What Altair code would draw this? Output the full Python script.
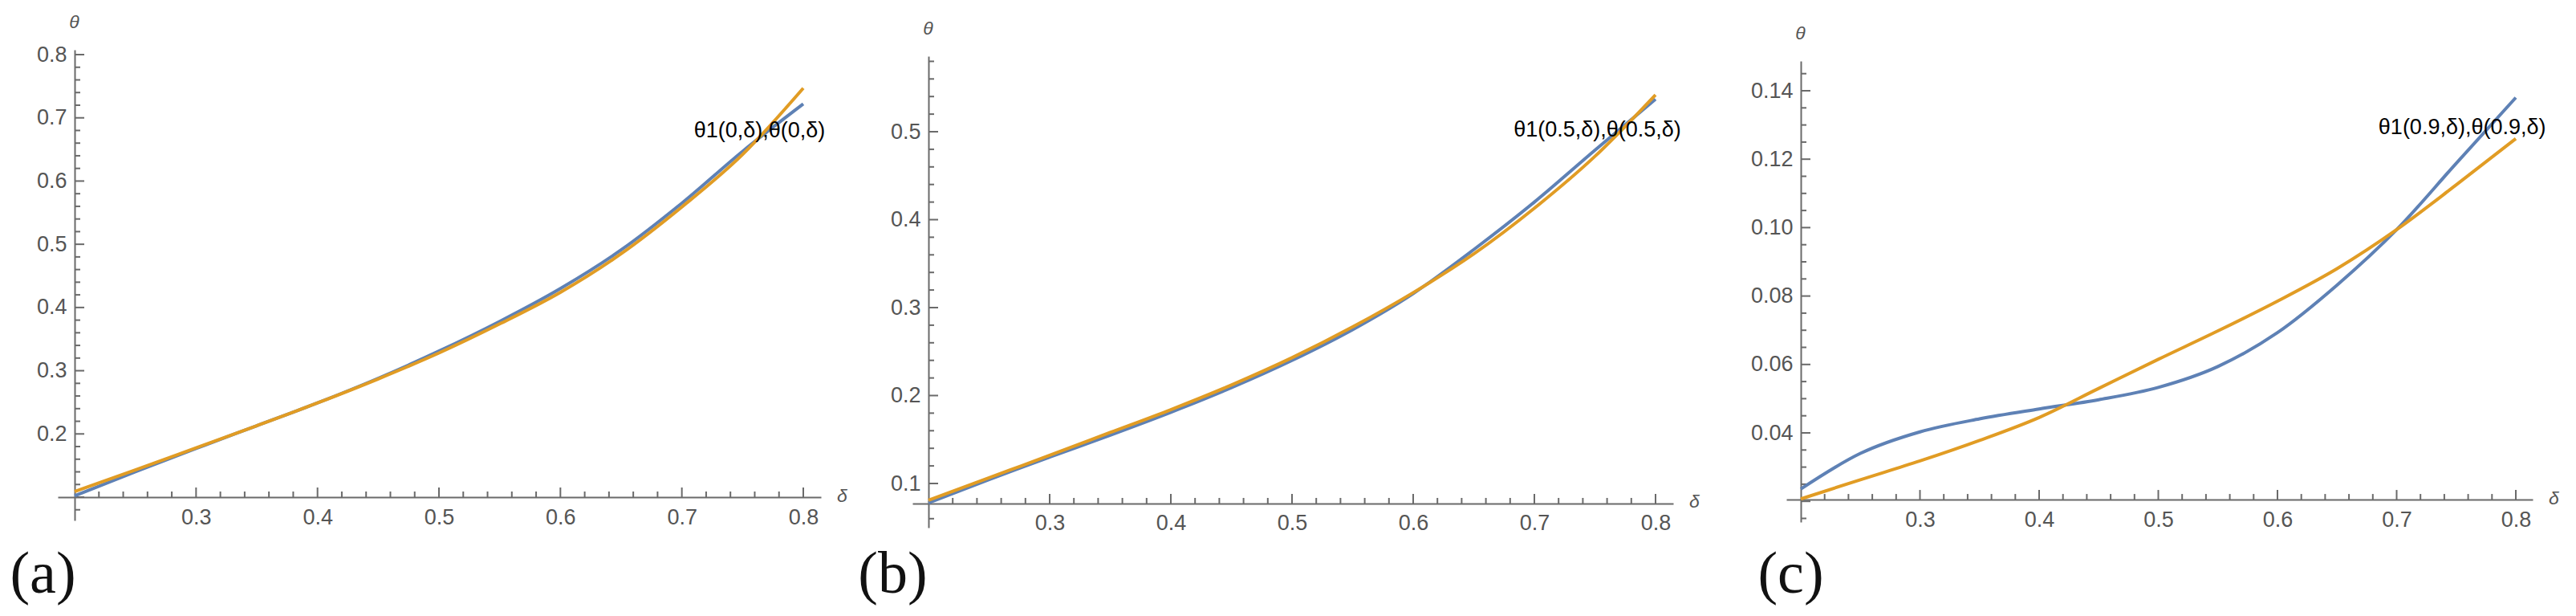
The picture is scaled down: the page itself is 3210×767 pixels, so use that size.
import altair as alt
import pandas as pd

# ---------------- data ----------------
delta = [0.20, 0.25, 0.30, 0.35, 0.40, 0.45, 0.50, 0.55, 0.60, 0.65, 0.70, 0.75, 0.80]

a_theta1 = [0.102, 0.140, 0.177, 0.213, 0.249, 0.288, 0.331, 0.378, 0.430, 0.491, 0.565, 0.647, 0.722]
a_theta = [0.109, 0.143, 0.178, 0.213, 0.249, 0.287, 0.328, 0.374, 0.424, 0.485, 0.559, 0.642, 0.747]

b_theta1 = [0.078, 0.1045, 0.130, 0.155, 0.181, 0.209, 0.240, 0.275, 0.316, 0.366, 0.420, 0.479, 0.537]
b_theta = [0.081, 0.1065, 0.132, 0.158, 0.184, 0.212, 0.243, 0.278, 0.317, 0.361, 0.413, 0.472, 0.542]

c_theta1 = [0.0236, 0.0340, 0.0403, 0.0441, 0.0470, 0.0497, 0.0533, 0.0594, 0.0693, 0.0832, 0.0994, 0.1188, 0.1380]
c_theta = [0.0207, 0.0263, 0.0318, 0.0378, 0.0445, 0.0530, 0.0615, 0.0698, 0.0785, 0.0880, 0.0994, 0.1125, 0.1260]

x_labels = [0.3, 0.4, 0.5, 0.6, 0.7, 0.8]
x_minor = [0.22, 0.24, 0.26, 0.28, 0.32, 0.34, 0.36, 0.38, 0.42, 0.44, 0.46, 0.48,
           0.52, 0.54, 0.56, 0.58, 0.62, 0.64, 0.66, 0.68, 0.72, 0.74, 0.76, 0.78]

a_y_labels = [0.2, 0.3, 0.4, 0.5, 0.6, 0.7, 0.8]
a_y_major = [0.1, 0.2, 0.3, 0.4, 0.5, 0.6, 0.7, 0.8]
a_y_minor = [0.08, 0.12, 0.14, 0.16, 0.18, 0.22, 0.24, 0.26, 0.28, 0.32, 0.34, 0.36, 0.38,
             0.42, 0.44, 0.46, 0.48, 0.52, 0.54, 0.56, 0.58, 0.62, 0.64, 0.66, 0.68,
             0.72, 0.74, 0.76, 0.78]

b_y_labels = [0.1, 0.2, 0.3, 0.4, 0.5]
b_y_major = [0.1, 0.2, 0.3, 0.4, 0.5]
b_y_minor = [0.06, 0.08, 0.12, 0.14, 0.16, 0.18, 0.22, 0.24, 0.26, 0.28, 0.32, 0.34, 0.36, 0.38,
             0.42, 0.44, 0.46, 0.48, 0.52, 0.54, 0.56, 0.58]

c_y_labels = [0.04, 0.06, 0.08, 0.10, 0.12, 0.14]
c_y_major = [0.02, 0.04, 0.06, 0.08, 0.10, 0.12, 0.14]
c_y_minor = [0.015, 0.025, 0.03, 0.035, 0.045, 0.05, 0.055, 0.065, 0.07, 0.075, 0.085, 0.09, 0.095,
             0.105, 0.11, 0.115, 0.125, 0.13, 0.135, 0.145]

axis_origin_theta = [0.1, 0.0772, 0.0205]
annotations = ["θ1(0,δ),θ(0,δ)", "θ1(0.5,δ),θ(0.5,δ)", "θ1(0.9,δ),θ(0.9,δ)"]
annot_x = [0.764, 0.752, 0.755]
annot_y = [0.679, 0.502, 0.1292]
captions = ["(a)", "(b)", "(c)"]

series_theta1 = [a_theta1, b_theta1, c_theta1]
series_theta = [a_theta, b_theta, c_theta]
y_labels = [a_y_labels, b_y_labels, c_y_labels]
y_major = [a_y_major, b_y_major, c_y_major]
y_minor = [a_y_minor, b_y_minor, c_y_minor]
y_format = [".1f", ".1f", ".2f"]

# ---------------- layout / style ----------------
W, H = 3194, 751
BLUE = "#5E81B5"
ORANGE = "#E19C24"
AXIS_GRAY = "#6a6a6a"
LABEL_GRAY = "#555555"
SANS = "Liberation Sans"
LINE_W = 4

# pixel geometry of each panel (chart coordinates)
GEOM = [
    dict(x02=85, x08=993, xl=64, xr=1015, yref=(0.1, 0.8), ypx=(611, 60), yt=54, yb=640),
    dict(x02=1149, x08=2055, xl=1129, xr=2077, yref=(0.1, 0.5), ypx=(594, 156), yt=62, yb=649),
    dict(x02=2236, x08=3127, xl=2218, xr=3148, yref=(0.04, 0.14), ypx=(531, 105), yt=68, yb=642),
]
CAPTION_BASELINE = 730


def make_panel(i):
    g = GEOM[i]
    kx = (g["x08"] - g["x02"]) / 0.6
    xdom = [0.2 - (g["x02"] - g["xl"]) / kx, 0.8 + (g["xr"] - g["x08"]) / kx]
    (v0, v1), (p0, p1) = g["yref"], g["ypx"]
    ky = (p0 - p1) / (v1 - v0)
    ydom = [v0 - (g["yb"] - p0) / ky, v1 + (p1 - g["yt"]) / ky]
    x_axis_px = p0 - (axis_origin_theta[i] - v0) * ky

    xs = alt.Scale(domain=xdom, range=[g["xl"], g["xr"]], nice=False, zero=False)
    ys = alt.Scale(domain=ydom, range=[g["yb"], g["yt"]], nice=False, zero=False)

    common = dict(grid=False, ticks=False, domainColor=AXIS_GRAY, domainWidth=2,
                  labelFont=SANS, labelFontSize=27, labelColor=LABEL_GRAY,
                  labelFlush=False, labelOverlap=False,
                  titleFont=SANS, titleFontSize=23, titleFontStyle="italic",
                  titleFontWeight="normal", titleColor=LABEL_GRAY, titleAngle=0,
                  titleAlign="center", titleBaseline="middle")
    xaxis = alt.Axis(orient="bottom", offset=x_axis_px - H, values=x_labels, format=".1f",
                     labelPadding=12, title="δ", titleX=g["xr"] + 26, titleY=-2, **common)
    yaxis = alt.Axis(orient="left", offset=-g["x02"], values=y_labels[i], format=y_format[i],
                     labelPadding=10, title="θ", titleX=-1, titleY=g["yt"] - 35, **common)

    def X(field):
        return alt.X(field, scale=xs, axis=xaxis)

    def Y(field):
        return alt.Y(field, scale=ys, axis=yaxis)

    def XD(v):
        return alt.XDatum(v, type="quantitative", scale=xs, axis=xaxis)

    def YD(v):
        return alt.YDatum(v, type="quantitative", scale=ys, axis=yaxis)

    df = pd.DataFrame({"delta": delta, "theta1": series_theta1[i], "theta": series_theta[i]})
    blue = alt.Chart(df).mark_line(color=BLUE, strokeWidth=LINE_W, interpolate="monotone").encode(
        x=X("delta:Q"), y=Y("theta1:Q"))
    orange = alt.Chart(df).mark_line(color=ORANGE, strokeWidth=LINE_W, interpolate="monotone").encode(
        x=X("delta:Q"), y=Y("theta:Q"))

    def xticks(vals, size):
        return alt.Chart(pd.DataFrame({"v": vals})).mark_tick(
            orient="vertical", size=size, thickness=2, color=AXIS_GRAY, opacity=1,
            yOffset=-size / 2).encode(x=X("v:Q"), y=YD(axis_origin_theta[i]))

    def yticks(vals, size):
        return alt.Chart(pd.DataFrame({"v": vals})).mark_tick(
            orient="horizontal", size=size, thickness=2, color=AXIS_GRAY, opacity=1,
            xOffset=size / 2).encode(y=Y("v:Q"), x=XD(0.2))

    annot = alt.Chart(pd.DataFrame({"t": [annotations[i]]})).mark_text(
        font=SANS, fontSize=27, color="black", align="center", baseline="middle").encode(
        x=XD(annot_x[i]), y=YD(annot_y[i]), text="t:N")

    cap_dx = [-39.5, -44.5, -12.5][i]
    caption = alt.Chart(pd.DataFrame({"t": [captions[i]]})).mark_text(
        font="Liberation Serif", fontSize=74, color="#111111", align="center",
        baseline="alphabetic", dx=cap_dx, dy=CAPTION_BASELINE - g["yb"]).encode(
        x=XD(0.2), y=YD(ydom[0]), text="t:N")

    return alt.layer(
        xticks(x_minor, 7), xticks(x_labels, 12),
        yticks(y_minor[i], 7), yticks(y_major[i], 12),
        blue, orange, annot, caption)


chart = alt.layer(make_panel(0), make_panel(1), make_panel(2)).resolve_scale(
    x="independent", y="independent"
).properties(
    width=W, height=H, padding=0, autosize=alt.AutoSizeParams(type="none"),
    background="white"
).configure_view(strokeWidth=0)

chart.save("out.html", embed_options={"renderer": "svg", "actions": False})
